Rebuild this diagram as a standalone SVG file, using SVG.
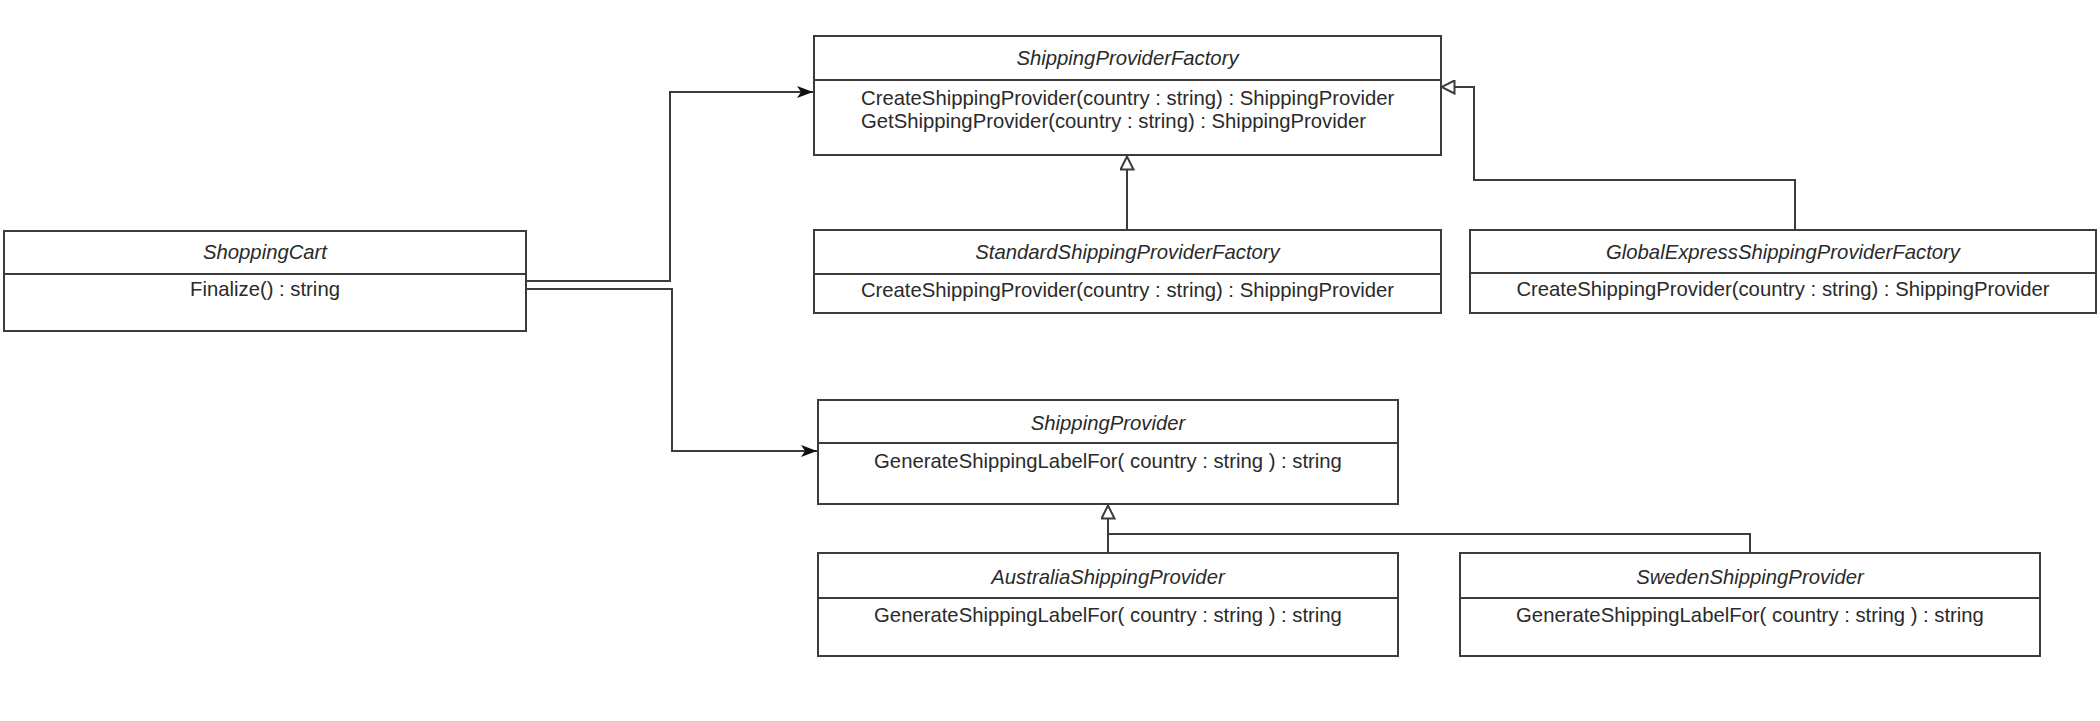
<svg xmlns="http://www.w3.org/2000/svg" width="2100" height="721" viewBox="0 0 2100 721">
  <style>
    .box { fill: #ffffff; stroke: #3c3c3c; stroke-width: 2; }
    .sep { stroke: #3c3c3c; stroke-width: 2; }
    .name { font-family: "Liberation Sans", Arial, sans-serif; font-size: 20.3px; font-style: italic; fill: #2a2a2a; text-anchor: middle; }
    .op { font-family: "Liberation Sans", Arial, sans-serif; font-size: 20.3px; fill: #2a2a2a; text-anchor: middle; }
    .opl { font-family: "Liberation Sans", Arial, sans-serif; font-size: 20.3px; fill: #2a2a2a; text-anchor: start; }
    .edge { fill: none; stroke: #3c3c3c; stroke-width: 2; }
    .assoc { marker-end: url(#arrowFilled); }
    .gen { marker-end: url(#arrowHollow); }
  </style>
  <defs>
    <!-- navigable association: solid classic arrowhead -->
    <marker id="arrowFilled" viewBox="0 0 16 12" refX="16" refY="6" markerWidth="16" markerHeight="12" markerUnits="userSpaceOnUse" orient="auto">
      <path d="M0,0 L16,6 L0,12 L4,6 Z" fill="#111111"/>
    </marker>
    <!-- generalization: hollow triangle -->
    <marker id="arrowHollow" viewBox="-1 -1 16 15" refX="13.5" refY="6.5" markerWidth="16" markerHeight="15" markerUnits="userSpaceOnUse" orient="auto">
      <path d="M0,0 L13,6.5 L0,13 Z" fill="#ffffff" stroke="#3c3c3c" stroke-width="2"/>
    </marker>
  </defs>

  <rect width="2100" height="721" fill="#ffffff"/>

  <!-- connectors -->
  <g id="connectors">
    <path class="edge assoc" d="M526,281 H670 V92 H813"/>
    <path class="edge assoc" d="M526,289 H672 V451 H817"/>
    <path class="edge gen" d="M1127,230 V156"/>
    <path class="edge gen" d="M1795,230 V180 H1474 V87 H1441"/>
    <path class="edge gen" d="M1108,553 V505"/>
    <path class="edge" d="M1750,553 V534 H1108"/>
  </g>

  <!-- ShoppingCart -->
  <g id="ShoppingCart">
    <rect class="box" x="4" y="231" width="522" height="100"/>
    <line class="sep" x1="4" y1="274" x2="526" y2="274"/>
    <text class="name" x="265" y="259">ShoppingCart</text>
    <text class="op" x="265" y="296">Finalize() : string</text>
  </g>

  <!-- ShippingProviderFactory -->
  <g id="ShippingProviderFactory">
    <rect class="box" x="814" y="36" width="627" height="119"/>
    <line class="sep" x1="814" y1="80" x2="1441" y2="80"/>
    <text class="name" x="1127.5" y="65">ShippingProviderFactory</text>
    <text class="opl" x="861" y="105">CreateShippingProvider(country : string) : ShippingProvider</text>
    <text class="opl" x="861" y="128">GetShippingProvider(country : string) : ShippingProvider</text>
  </g>

  <!-- StandardShippingProviderFactory -->
  <g id="StandardShippingProviderFactory">
    <rect class="box" x="814" y="230" width="627" height="83"/>
    <line class="sep" x1="814" y1="274" x2="1441" y2="274"/>
    <text class="name" x="1127.5" y="259">StandardShippingProviderFactory</text>
    <text class="op" x="1127.5" y="297">CreateShippingProvider(country : string) : ShippingProvider</text>
  </g>

  <!-- GlobalExpressShippingProviderFactory -->
  <g id="GlobalExpressShippingProviderFactory">
    <rect class="box" x="1470" y="230" width="626" height="83"/>
    <line class="sep" x1="1470" y1="273" x2="2096" y2="273"/>
    <text class="name" x="1783" y="259">GlobalExpressShippingProviderFactory</text>
    <text class="op" x="1783" y="296">CreateShippingProvider(country : string) : ShippingProvider</text>
  </g>

  <!-- ShippingProvider -->
  <g id="ShippingProvider">
    <rect class="box" x="818" y="400" width="580" height="104"/>
    <line class="sep" x1="818" y1="443" x2="1398" y2="443"/>
    <text class="name" x="1108" y="430">ShippingProvider</text>
    <text class="op" x="1108" y="468">GenerateShippingLabelFor( country : string ) : string</text>
  </g>

  <!-- AustraliaShippingProvider -->
  <g id="AustraliaShippingProvider">
    <rect class="box" x="818" y="553" width="580" height="103"/>
    <line class="sep" x1="818" y1="598" x2="1398" y2="598"/>
    <text class="name" x="1108" y="584">AustraliaShippingProvider</text>
    <text class="op" x="1108" y="622">GenerateShippingLabelFor( country : string ) : string</text>
  </g>

  <!-- SwedenShippingProvider -->
  <g id="SwedenShippingProvider">
    <rect class="box" x="1460" y="553" width="580" height="103"/>
    <line class="sep" x1="1460" y1="598" x2="2040" y2="598"/>
    <text class="name" x="1750" y="584">SwedenShippingProvider</text>
    <text class="op" x="1750" y="622">GenerateShippingLabelFor( country : string ) : string</text>
  </g>
</svg>
